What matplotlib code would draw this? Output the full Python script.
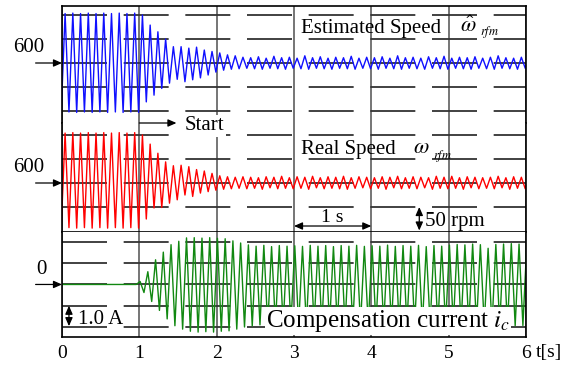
import numpy as np
import matplotlib
matplotlib.use("Agg")
import matplotlib.pyplot as plt

plt.rcParams['font.family'] = ['Liberation Serif', 'DejaVu Serif']
plt.rcParams['mathtext.fontset'] = 'stix'
plt.rcParams['lines.scale_dashes'] = False

# scope traces, one value per half period (peaks / troughs)
half_period = 0.05          # s
speed_t0 = -0.01            # s, first sample of both speed traces
current_t0 = -0.04          # s, first sample of the current trace

# estimated speed, rpm
est_speed = [
    498, 703, 498, 704, 497, 703, 498, 704, 497, 703,
    498, 704, 497, 703, 498, 704, 497, 703, 498, 704,
    497, 700, 519, 679, 533, 665, 547, 650, 558, 634,
    566, 634, 561, 631, 565, 633, 569, 627, 575, 624,
    581, 621, 585, 617, 587, 615, 588, 612, 589, 611,
    588, 613, 587, 610, 589, 614, 588, 611, 587, 612,
    589, 610, 588, 615, 587, 611, 589, 613, 588, 610,
    587, 612, 589, 611, 588, 614, 587, 610, 589, 612,
    588, 611, 587, 613, 589, 610, 588, 615, 587, 611,
    589, 612, 588, 610, 587, 613, 589, 611, 588, 614,
    587, 610, 589, 612, 588, 611, 587, 613, 589, 610,
    588, 612, 587, 615, 589, 611, 588, 610, 587, 612,
    589, 611,
]

# real speed, rpm
real_speed = [
    506, 704, 507, 705, 506, 704, 507, 705, 506, 704,
    507, 705, 506, 704, 507, 705, 506, 704, 507, 705,
    506, 700, 525, 681, 548, 662, 549, 644, 558, 636,
    565, 637, 575, 634, 572, 628, 579, 625, 582, 620,
    585, 615, 587, 613, 588, 612, 589, 613, 588, 612,
    589, 611, 587, 613, 590, 612, 588, 614, 589, 611,
    588, 613, 589, 612, 587, 614, 590, 611, 588, 613,
    589, 612, 588, 614, 587, 611, 589, 613, 590, 612,
    588, 611, 589, 613, 587, 612, 590, 614, 588, 611,
    589, 613, 588, 612, 590, 611, 587, 614, 589, 612,
    588, 614, 589, 611, 587, 613, 590, 612, 588, 611,
    589, 612, 588, 614, 590, 611, 587, 613, 589, 612,
    588, 613,
]

# compensation current, A
comp_current = [
    0, 0, 0, 0, 0, 0, 0, 0, 0, 0,
    0, 0, 0, 0, 0, 0, 0, 0, 0, 0,
    0, 0.14, -0.38, 0.6, -0.8, 1.16, -1.22, 1.52, -1.62, 1.87,
    -1.94, 2.03, -2.1, 2.19, -2.2, 2.2, -2.24, 2.18, -2.22, 2.2,
    -2.24, 2.17, -2.2, 2.15, -2.18, 2.05, -2.1, 1.95, -2.0, 1.86,
    -1.95, 1.8, -1.9, 1.84, -1.92, 1.78, -1.9, 1.83, -1.93, 1.8,
    -1.9, 1.82, -1.94, 1.79, -1.91, 1.84, -1.9, 1.8, -1.93, 1.83,
    -1.91, 1.78, -1.9, 1.83, -1.94, 1.8, -1.92, 1.84, -1.9, 1.79,
    -1.93, 1.82, -1.91, 1.8, -1.9, 1.85, -1.94, 1.79, -1.92, 1.83,
    -1.9, 1.8, -1.93, 1.84, -1.91, 1.78, -1.9, 1.83, -1.94, 1.8,
    -1.92, 1.85, -1.9, 1.88, -1.93, 1.86, -1.91, 1.9, -1.94, 1.87,
    -1.9, 1.7, -1.95, 1.88, -1.92, 1.9, -1.96, 1.92, -1.94, 1.9,
    -1.93, 1.88,
]

time_ticks = [0, 1, 2, 3, 4, 5, 6]
speed_grid = [500, 550, 600, 650, 700]
real_grid = [550, 600, 650, 700]
current_grid = [-2, -1, 0, 1, 2]

t_speed = speed_t0 + half_period * np.arange(len(est_speed))
t_current = current_t0 + half_period * np.arange(len(comp_current))

W, H = 572, 366
fig = plt.figure(figsize=(W / 100, H / 100), dpi=100)

def panel(top, bottom):
    return fig.add_axes([62 / W, 1 - bottom / H, 464 / W, (bottom - top) / H])

ax_est = panel(6, 123)
ax_real = panel(123, 231.5)
ax_cur = panel(231.5, 337)

ax_est.set_ylim(475, 718.75)
ax_real.set_ylim(498.96, 725)
ax_cur.set_ylim(-2.47, 2.49)

dash = (0, (32.4, 12.0))
for ax, grid in ((ax_est, speed_grid), (ax_real, real_grid), (ax_cur, current_grid)):
    ax.set_xlim(0, 6)
    ax.set_xticks(time_ticks)
    ax.set_yticks(grid)
    ax.set_axisbelow(True)
    ax.xaxis.grid(True, color='#505050', lw=1.1, ls='-')
    ax.yaxis.grid(True, color='#333333', lw=1.3, ls=dash)
    ax.tick_params(length=0, labelleft=False, labelbottom=False)
    for s in ax.spines.values():
        s.set_linewidth(1.2)
        s.set_color('black')

ax_est.spines['bottom'].set_visible(False)
ax_real.spines['top'].set_visible(False)
ax_cur.spines['top'].set_visible(False)

ax_cur.tick_params(labelbottom=True, labelsize=14, pad=6)
ax_cur.set_xticklabels([str(v) for v in time_ticks])
ax_cur.annotate('t[s]', xy=(6, 0), xycoords=('data', 'axes fraction'),
                xytext=(7, -11), textcoords='offset points',
                fontsize=14, ha='left', va='center')

ax_est.plot(t_speed, est_speed, color='#1010ff', lw=1.0)
ax_real.plot(t_speed, real_speed, color='#ff0000', lw=1.0)
ax_cur.plot(t_current, comp_current, color='#118811', lw=1.0)

arrow_kw = dict(arrowstyle='-|>,head_length=0.5,head_width=0.22', color='black',
                lw=0.9, shrinkA=0, shrinkB=0, mutation_scale=10)
both_kw = dict(arrow_kw, arrowstyle='<|-|>,head_length=0.5,head_width=0.22')

# level markers on the left
for ax, level, label, dx in ((ax_est, 600, '600', -23.8), (ax_real, 600, '600', -23.8),
                             (ax_cur, 0, '0', -14.8)):
    ax.annotate('', xy=(0, level), xycoords=('axes fraction', 'data'),
                xytext=(-19, 0), textcoords='offset points', arrowprops=arrow_kw)
    ax.annotate(label, xy=(0, level), xycoords=('axes fraction', 'data'),
                xytext=(dx, 11), textcoords='offset points',
                fontsize=15, ha='center', va='center')

# panel captions
ax_est.text(3.09, 663, 'Estimated Speed', fontsize=15, va='baseline')
ax_est.text(5.15, 665, r'$\hat{\omega}$', fontsize=16, va='baseline')
ax_est.text(5.41, 658, r'$rfm$', fontsize=9, va='baseline')
ax_real.text(3.09, 660, 'Real Speed', fontsize=15, va='baseline')
ax_real.text(4.54, 662, r'$\omega$', fontsize=16, va='baseline')
ax_real.text(4.80, 649, r'$rfm$', fontsize=9, va='baseline')

# start marker
ax_real.annotate('', xy=(1.48, 725), xytext=(1.0, 725), arrowprops=arrow_kw,
                 annotation_clip=False)
ax_real.text(1.59, 710, 'Start', fontsize=15, va='baseline', clip_on=False,
             bbox=dict(facecolor='white', edgecolor='none', pad=1))

# scale bars
ax_real.annotate('', xy=(3, 510.4), xytext=(4, 510.4), arrowprops=both_kw)
ax_real.text(3.49, 519.4, '1 s', fontsize=14, ha='center', va='baseline')
ax_real.annotate('', xy=(4.62, 550), xytext=(4.62, 501), arrowprops=both_kw)
ax_real.text(4.69, 510.4, '50 rpm', fontsize=15, va='baseline')
ax_cur.annotate('', xy=(0.09, -1.0), xytext=(0.09, -1.96), arrowprops=both_kw)
ax_cur.text(0.207, -1.87, '1.0 A', fontsize=15, va='baseline')

ax_cur.text(2.64, -1.99, r'Compensation current $i_c$', fontsize=18, va='baseline',
            bbox=dict(facecolor='white', edgecolor='none', pad=0.5), zorder=5)

fig.savefig('out.png', dpi=100)
